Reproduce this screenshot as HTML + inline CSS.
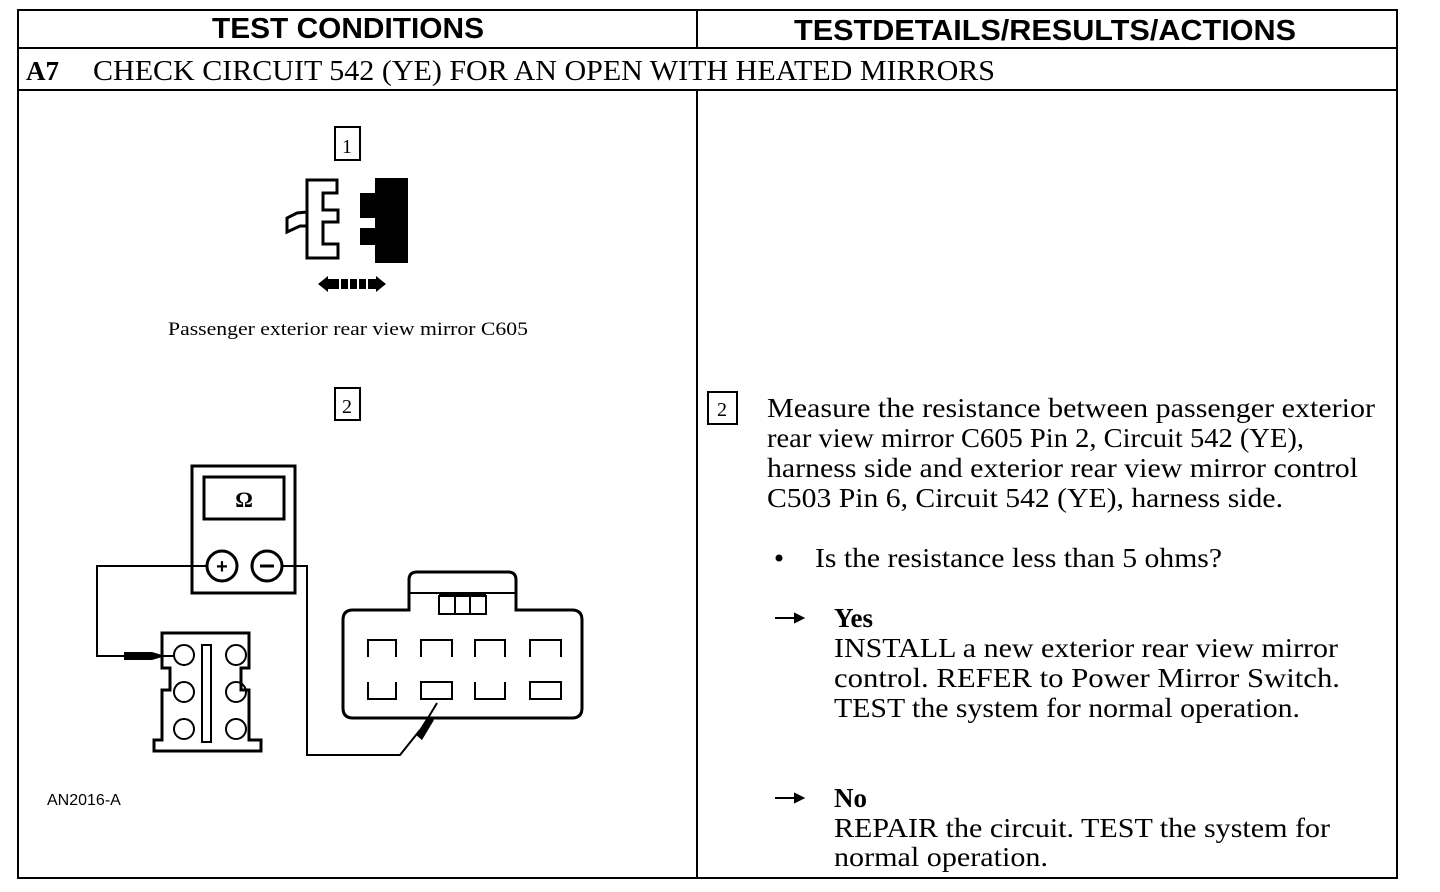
<!DOCTYPE html>
<html><head><style>
body{margin:0;background:#fff;}
svg{display:block}
.s{font-family:"Liberation Serif",serif;}
.a{font-family:"Liberation Sans",sans-serif;}
</style></head><body>
<svg width="1440" height="892" viewBox="0 0 1440 892" xmlns="http://www.w3.org/2000/svg">
<g fill="none" stroke="#000" stroke-width="2">
<rect x="18" y="10" width="1379" height="868"/>
<line x1="18" y1="48" x2="1397" y2="48"/>
<line x1="18" y1="90" x2="1397" y2="90"/>
<line x1="697" y1="10" x2="697" y2="48"/>
<line x1="697" y1="90" x2="697" y2="878"/>
</g>
<text class="a" x="348" y="38" font-size="29" font-weight="bold" text-anchor="middle" textLength="272" lengthAdjust="spacingAndGlyphs">TEST CONDITIONS</text>
<text class="a" x="1045" y="40" font-size="29" font-weight="bold" text-anchor="middle" textLength="502" lengthAdjust="spacingAndGlyphs">TESTDETAILS/RESULTS/ACTIONS</text>
<text class="s" x="26" y="80" font-size="27" font-weight="bold">A7</text>
<text class="s" x="93" y="80" font-size="28" textLength="902" lengthAdjust="spacingAndGlyphs">CHECK CIRCUIT 542 (YE) FOR AN OPEN WITH HEATED MIRRORS</text>

<!-- diagram 1 -->
<rect x="335" y="127" width="25" height="33" fill="none" stroke="#000" stroke-width="2"/>
<text class="s" x="347" y="153" font-size="20" text-anchor="middle">1</text>
<path d="M307 180 H337 V193 H323 V210 H338 V222 H323 V244 H338 V258 H307 Z M307 212 L297 213 L287 218 V232 L300 226 L307 226" fill="none" stroke="#000" stroke-width="3"/>
<path d="M375 178 H408 V263 H375 V245 H360 V228 H375 V218 H360 V193 H375 Z" fill="#000"/>
<path d="M318 284 L328 276 V292 Z M386 284 L376 276 V292 Z" fill="#000"/>
<rect x="328" y="279" width="48" height="10" fill="#000"/>
<g stroke="#fff" stroke-width="2"><line x1="340" y1="279" x2="340" y2="289"/><line x1="349" y1="279" x2="349" y2="289"/><line x1="358" y1="279" x2="358" y2="289"/><line x1="367" y1="279" x2="367" y2="289"/></g>
<text class="s" x="348" y="335" font-size="19" text-anchor="middle" textLength="360" lengthAdjust="spacingAndGlyphs">Passenger exterior rear view mirror C605</text>
<rect x="335" y="388" width="25" height="32" fill="none" stroke="#000" stroke-width="2"/>
<text class="s" x="347" y="413" font-size="20" text-anchor="middle">2</text>

<!-- meter -->
<g fill="none" stroke="#000" stroke-width="3">
<rect x="192" y="466" width="103" height="127"/>
<rect x="204" y="477" width="80" height="42"/>
<circle cx="222" cy="566" r="15"/>
<circle cx="267" cy="566" r="15"/>
</g>
<text class="s" x="244" y="507" font-size="22" font-weight="bold" text-anchor="middle">Ω</text>
<text class="a" x="222" y="573" font-size="20" font-weight="bold" text-anchor="middle">+</text>
<line x1="260" y1="566" x2="274" y2="566" stroke="#000" stroke-width="3"/>
<g fill="none" stroke="#000" stroke-width="2">
<polyline points="207,566 97,566 97,656 124,656"/>
<polyline points="282,566 307,566 307,755 400,755 420,730"/>
<line x1="150" y1="656" x2="175" y2="656"/>
<line x1="428" y1="718" x2="437" y2="703"/>
</g>
<rect x="124" y="652" width="28" height="8" fill="#000"/>
<polygon points="152,652 162,655 162,657 152,660" fill="#000"/>
<polygon points="416,735 428,716 434,720 422,740" fill="#000"/>
<!-- left connector -->
<path d="M162 633 H249 V668 H241 V690 H249 V740 H261 V751 H154 V740 H162 V690 H170 V668 H162 Z" fill="none" stroke="#000" stroke-width="3"/>
<g fill="none" stroke="#000" stroke-width="2">
<circle cx="184" cy="655" r="10"/><circle cx="236" cy="655" r="10"/>
<circle cx="184" cy="692" r="10"/><circle cx="236" cy="692" r="10"/>
<circle cx="184" cy="729" r="10"/><circle cx="236" cy="729" r="10"/>
<rect x="202" y="645" width="9" height="97"/>
</g>
<!-- right connector -->
<path d="M353 610 H409 V580 Q409 572 417 572 H508 Q516 572 516 580 V610 H572 Q582 610 582 620 V708 Q582 718 572 718 H353 Q343 718 343 708 V620 Q343 610 353 610 Z" fill="none" stroke="#000" stroke-width="3"/>
<line x1="409" y1="593" x2="516" y2="593" stroke="#000" stroke-width="2"/>
<rect x="439" y="592" width="47" height="5" fill="#000"/>
<g fill="none" stroke="#000" stroke-width="2">
<rect x="439" y="596" width="47" height="18"/><line x1="455" y1="596" x2="455" y2="614"/><line x1="470" y1="596" x2="470" y2="614"/>
<path d="M368 657 V640 H396 V657 M421 657 V640 H452 V657 M475 657 V640 H505 V657 M530 657 V640 H561 V657"/>
<path d="M368 682 V699 H396 V682 M421 682 H452 V699 H421 Z M475 682 V699 H505 V682 M530 682 H561 V699 H530 Z"/>
</g>
<text class="a" x="47" y="805" font-size="16">AN2016-A</text>

<!-- right side text -->
<rect x="708" y="392" width="29" height="32" fill="none" stroke="#000" stroke-width="2"/>
<text class="s" x="722" y="416" font-size="20" text-anchor="middle">2</text>
<g class="s" font-size="27">
<text x="767" y="417" textLength="608" lengthAdjust="spacingAndGlyphs">Measure the resistance between passenger exterior</text>
<text x="767" y="447" textLength="537" lengthAdjust="spacingAndGlyphs">rear view mirror C605 Pin 2, Circuit 542 (YE),</text>
<text x="767" y="477" textLength="591" lengthAdjust="spacingAndGlyphs">harness side and exterior rear view mirror control</text>
<text x="767" y="507" textLength="516" lengthAdjust="spacingAndGlyphs">C503 Pin 6, Circuit 542 (YE), harness side.</text>
<circle cx="779" cy="558" r="3.5" fill="#000"/>
<text x="815" y="567" textLength="407" lengthAdjust="spacingAndGlyphs">Is the resistance less than 5 ohms?</text>
<text x="834" y="627" font-weight="bold">Yes</text>
<text x="834" y="657" textLength="504" lengthAdjust="spacingAndGlyphs">INSTALL a new exterior rear view mirror</text>
<text x="834" y="687" textLength="506" lengthAdjust="spacingAndGlyphs">control. REFER to Power Mirror Switch.</text>
<text x="834" y="717" textLength="466" lengthAdjust="spacingAndGlyphs">TEST the system for normal operation.</text>
<text x="834" y="807" font-weight="bold">No</text>
<text x="834" y="837" textLength="496" lengthAdjust="spacingAndGlyphs">REPAIR the circuit. TEST the system for</text>
<text x="834" y="866" textLength="214" lengthAdjust="spacingAndGlyphs">normal operation.</text>
</g>
<g stroke="#000" stroke-width="2" fill="#000">
<line x1="775" y1="618" x2="798" y2="618"/><polygon points="803,618 795,614 795,622"/>
<line x1="775" y1="798" x2="798" y2="798"/><polygon points="803,798 795,794 795,802"/>
</g>
</svg>
</body></html>
